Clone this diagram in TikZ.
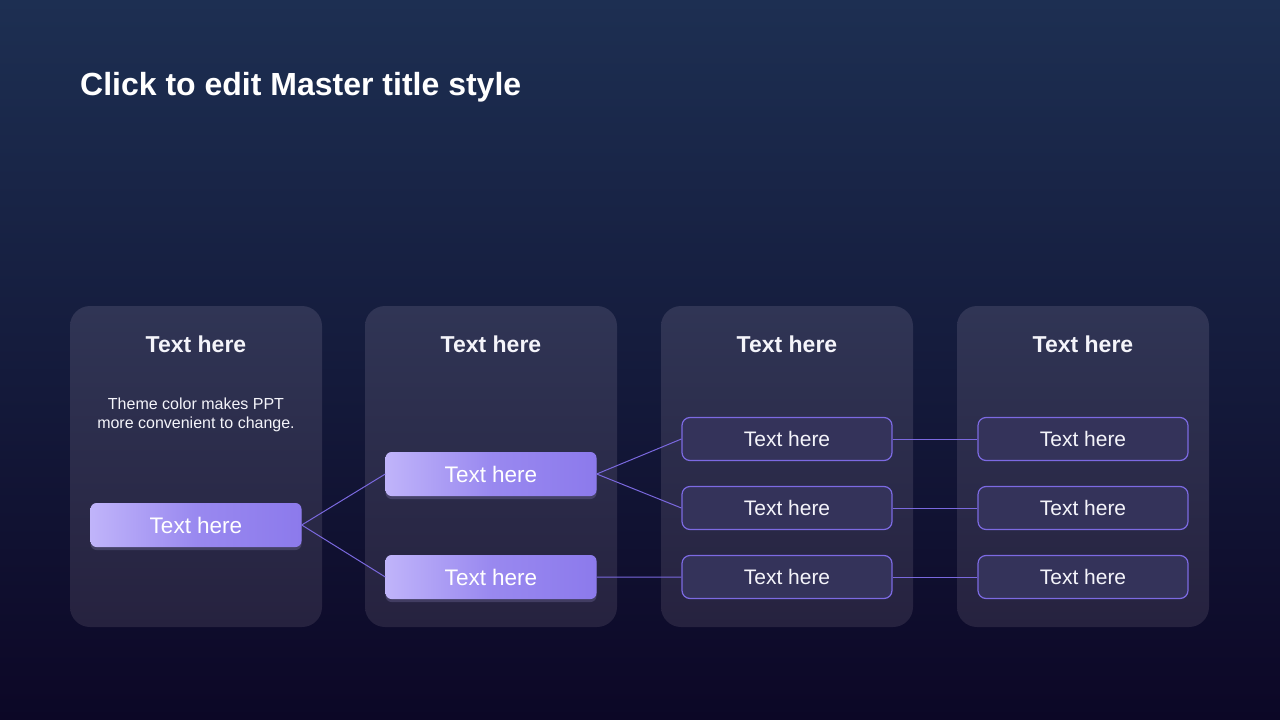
\documentclass[tikz,border=0pt]{standalone}
\usepackage{fontspec}
\setmainfont{Liberation Sans}
\usepackage{tikz}
\usetikzlibrary{positioning, shadows}
\definecolor{bgtop}{RGB}{29,47,82}
\definecolor{bgmid}{RGB}{21,28,64}
\definecolor{bgbot}{RGB}{12,7,38}
\definecolor{paneltop}{RGB}{48,53,85}
\definecolor{panelbot}{RGB}{38,34,63}
\definecolor{btnlight}{RGB}{192,180,250}
\definecolor{btndark}{RGB}{140,122,236}
\definecolor{boxfill}{RGB}{52,51,90}
\definecolor{boxline}{RGB}{124,106,226}
\definecolor{linkcol}{RGB}{122,104,222}
\definecolor{txtcol}{RGB}{244,244,250}

\begin{document}
\begin{tikzpicture}[x=1pt, y=-1pt,
  panel/.style={top color=paneltop, bottom color=panelbot, draw=none,
                rounded corners=20pt, minimum width=252pt, minimum height=321pt},
  head/.style={text=txtcol, font=\fontsize{23}{27}\selectfont\bfseries},
  btn/.style={left color=btnlight, right color=btndark, middle color=btndark!75!btnlight,
              draw=none, rounded corners=6pt, minimum width=211pt, minimum height=44pt,
              text=white, font=\fontsize{22.5}{26}\selectfont,
              drop shadow={shadow xshift=0pt, shadow yshift=-3pt, opacity=0.18, fill=btnlight}},
  outbox/.style={fill=boxfill, draw=boxline, line width=1.2pt, rounded corners=8pt,
                 minimum width=210pt, minimum height=43pt,
                 text=txtcol, font=\fontsize{21}{25}\selectfont},
  link/.style={draw=linkcol, line width=1pt}
]
  \useasboundingbox (0,0) rectangle (1280,720);
  \shade[top color=bgtop, middle color=bgmid, bottom color=bgbot] (0,0) rectangle (1280,720);

  \node[anchor=west, inner sep=0pt, text=white, font=\fontsize{32}{36}\selectfont\bfseries]
    (title) at (80,87) {Click to edit Master title style};

  \node[panel] (p1) at (196,466.5) {};
  \node[panel] (p2) at (491,466.5) {};
  \node[panel] (p3) at (787,466.5) {};
  \node[panel] (p4) at (1083,466.5) {};

  \node[head] (h1) at (196,344) {Text here};
  \node[head] (h2) at (491,344) {Text here};
  \node[head] (h3) at (787,344) {Text here};
  \node[head] (h4) at (1083,344) {Text here};

  \node[text=txtcol, align=center, font=\fontsize{16}{19.5}\selectfont]
    (desc) at (196,415) {Theme color makes PPT\\more convenient to change.};

  \node[btn] (b1) at (196,525) {Text here};
  \node[btn] (b2a) at (491,474) {Text here};
  \node[btn] (b2b) at (491,577) {Text here};

  \node[outbox] (c3a) at (787,439) {Text here};
  \node[outbox, below=24.8pt of c3a] (c3b) {Text here};
  \node[outbox, below=24.8pt of c3b] (c3c) {Text here};
  \node[outbox, right=84.8pt of c3a] (c4a) {Text here};
  \node[outbox, right=84.8pt of c3b] (c4b) {Text here};
  \node[outbox, right=84.8pt of c3c] (c4c) {Text here};

  \draw[link] (b1.east) -- (b2a.west);
  \draw[link] (b1.east) -- (b2b.west);
  \draw[link] (b2a.east) -- (c3a.west);
  \draw[link] (b2a.east) -- (c3b.west);
  \draw[link] (b2b.east) -- (c3c.west);
  \draw[link] (c3a) -- (c4a);
  \draw[link] (c3b) -- (c4b);
  \draw[link] (c3c) -- (c4c);
\end{tikzpicture}
\end{document}
